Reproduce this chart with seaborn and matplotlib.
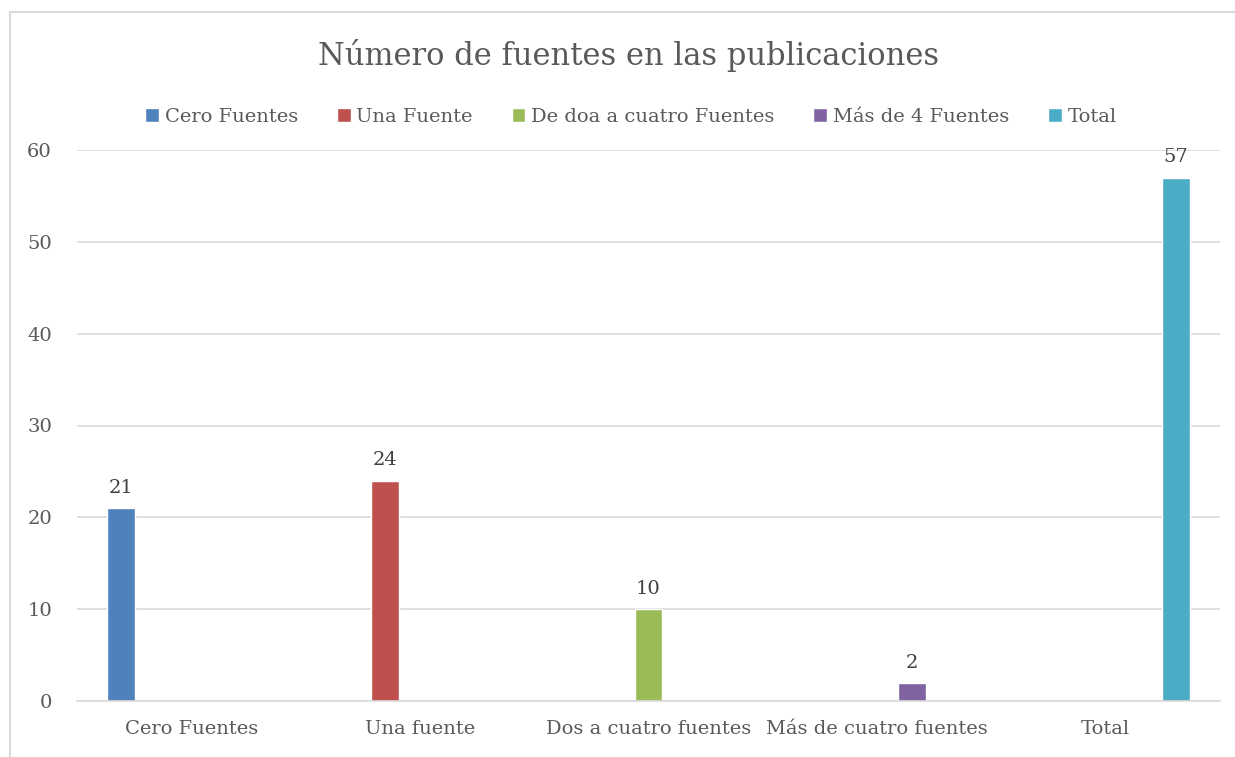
import matplotlib
matplotlib.use("Agg")
import matplotlib.pyplot as plt
import seaborn as sns
import pandas as pd
from matplotlib.patches import Rectangle

categories = ["Cero Fuentes", "Una fuente", "Dos a cuatro fuentes", "Más de cuatro fuentes", "Total"]
series = ["Cero Fuentes", "Una Fuente", "De doa a cuatro Fuentes", "Más de 4 Fuentes", "Total"]
values = [21, 24, 10, 2, 57]
colors = ["#4F81BD", "#C0504D", "#9BBB59", "#8064A2", "#4BACC6"]
title = "Número de fuentes en las publicaciones"

df = pd.DataFrame({"categoria": categories, "serie": series, "valor": values})

sns.set_theme(style="white")
plt.rcParams["font.family"] = ["DejaVu Serif"]
text_color = "#595959"
grid_color = "#D9D9D9"

fig = plt.figure(figsize=(12.35, 7.57), dpi=100)
fig.patch.set_facecolor("white")
fig.add_artist(Rectangle((10 / 1235, -0.01), 1.02, 1 - 12 / 757 + 0.01,
                         transform=fig.transFigure, fill=False,
                         edgecolor="#D9D9D9", linewidth=1.5))
ax = fig.add_axes([77 / 1235, 1 - 701 / 757, (1220 - 77) / 1235, (701 - 150) / 757])

sns.barplot(data=df, x="categoria", y="valor", hue="serie", order=categories,
            hue_order=series, palette=colors, width=0.764, gap=0.2, dodge=True,
            saturation=1, ax=ax, legend=True)

ax.set_ylim(0, 60)
ax.set_xlim(-0.5, 4.5)
ax.set_yticks(range(0, 61, 10))
ax.yaxis.grid(True, color=grid_color, linewidth=1.2)
ax.set_axisbelow(True)
for s in ["top", "right", "left"]:
    ax.spines[s].set_visible(False)
ax.spines["bottom"].set_color(grid_color)
ax.spines["bottom"].set_linewidth(1.2)
ax.tick_params(axis="both", length=0, labelsize=14, colors=text_color)
ax.tick_params(axis="y", pad=18)
ax.tick_params(axis="x", pad=14)
ax.set_xlabel("")
ax.set_ylabel("")

for cont in ax.containers:
    ax.bar_label(cont, fmt="%g", padding=8, fontsize=14, color="#404040")

handles, labels = ax.get_legend_handles_labels()
ax.legend(handles, labels, loc="center", bbox_to_anchor=(631 / 1235, (757 - 117) / 757),
          bbox_transform=fig.transFigure, ncol=5, frameon=False, fontsize=14,
          labelcolor=text_color, handlelength=0.7, handleheight=0.7,
          handletextpad=0.3, columnspacing=2.0)

fig.text(629 / 1235, 1 - 55 / 757, title, ha="center", va="center", fontsize=22, color=text_color)

fig.savefig("out.png", dpi=100)
